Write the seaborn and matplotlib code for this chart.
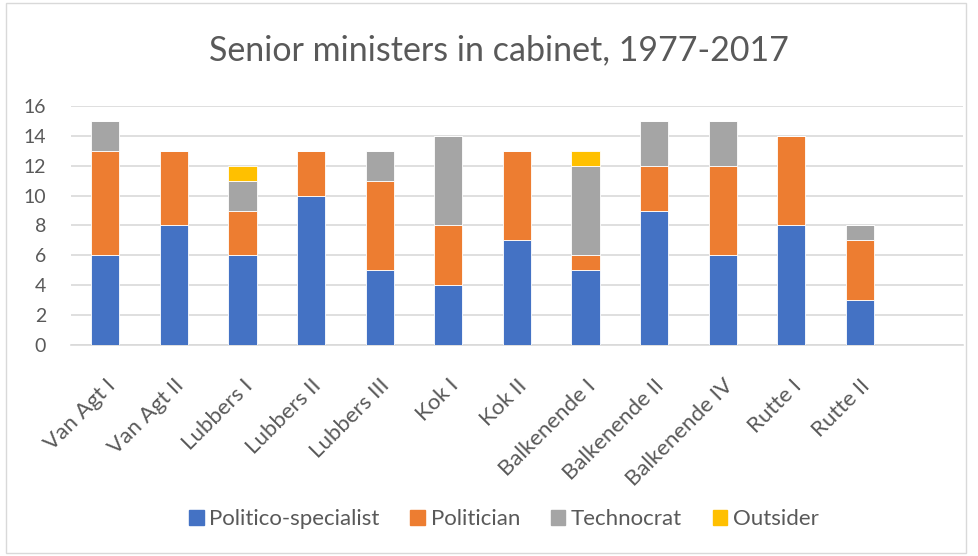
import matplotlib
matplotlib.use("Agg")
import matplotlib.pyplot as plt
import seaborn as sns
import numpy as np
import pandas as pd
from matplotlib.patches import Rectangle

cabinets = ["Van Agt I", "Van Agt II", "Lubbers I", "Lubbers II", "Lubbers III",
            "Kok I", "Kok II", "Balkenende I", "Balkenende II", "Balkenende IV",
            "Rutte I", "Rutte II"]
politico_specialist = [6, 8, 6, 10, 5, 4, 7, 5, 9, 6, 8, 3]
politician = [7, 5, 3, 3, 6, 4, 6, 1, 3, 6, 6, 4]
technocrat = [2, 0, 2, 0, 2, 6, 0, 6, 3, 3, 0, 1]
outsider = [0, 0, 1, 0, 0, 0, 0, 1, 0, 0, 0, 0]

series = [
    ("Politico-specialist", politico_specialist, "#4472C4"),
    ("Politician", politician, "#ED7D31"),
    ("Technocrat", technocrat, "#A5A5A5"),
    ("Outsider", outsider, "#FFC000"),
]

sns.set_theme(style="white")
plt.rcParams["font.family"] = ["Lato", "DejaVu Sans"]
text_color = "#595959"
grid_color = "#D9D9D9"

fig = plt.figure(figsize=(9.79, 5.56), dpi=100)
ax = fig.add_axes([0.0725, 0.3795, 0.911, 0.4299])

bottom = np.zeros(len(cabinets))
for name, vals, color in series:
    df = pd.DataFrame({"cabinet": cabinets, "n": vals})
    sns.barplot(data=df, x="cabinet", y="n", bottom=bottom, color=color,
                saturation=1, width=0.41, order=cabinets, ax=ax, legend=False,
                edgecolor="white", linewidth=0.6, zorder=3)
    bottom = bottom + np.array(vals)

# one empty slot is kept on the right of the category axis
ax.set_xlim(-0.5, 12.5)
ax.set_ylim(0, 16)
ax.set_yticks(range(0, 17, 2))
ax.yaxis.grid(True, color=grid_color, linewidth=1.2, zorder=0)
ax.set_axisbelow(True)
for side in ["top", "right", "left"]:
    ax.spines[side].set_visible(False)
ax.spines["bottom"].set_color(grid_color)
ax.spines["bottom"].set_linewidth(1.2)
ax.set_xlabel("")
ax.set_ylabel("")
ax.tick_params(axis="y", length=0, labelsize=14, labelcolor=text_color, pad=18)
ax.tick_params(axis="x", length=0, labelsize=16, labelcolor=text_color, pad=22)
plt.setp(ax.get_xticklabels(), rotation=45, ha="right", rotation_mode="anchor")

fig.text(499 / 979, 1 - 50 / 556, "Senior ministers in cabinet, 1977-2017",
         fontsize=24.5, color=text_color, ha="center", va="center")

handles = [Rectangle((0, 0), 1, 1, color=c) for _, _, c in series]
labels = [n for n, _, _ in series]
fig.legend(handles, labels, loc="center", bbox_to_anchor=(504 / 979, 1 - 519 / 556),
           ncol=4, frameon=False, fontsize=16, labelcolor=text_color,
           handlelength=0.66, handleheight=0.66, handletextpad=0.25,
           columnspacing=1.38)

fig.patches.append(Rectangle((6 / 979, 3 / 556), 960 / 979, 550 / 556,
                             transform=fig.transFigure, fill=False,
                             edgecolor=grid_color, linewidth=1))

fig.savefig("out.png", dpi=100, facecolor="white")
